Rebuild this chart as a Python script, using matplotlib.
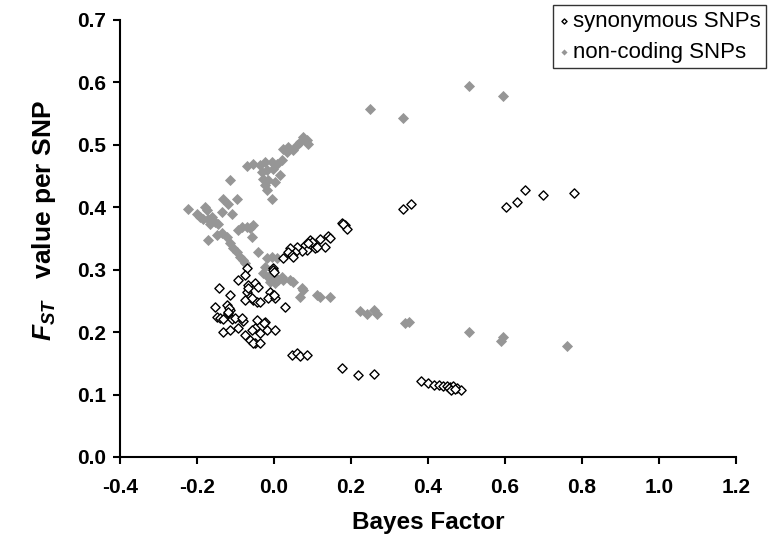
import numpy as np
import matplotlib
matplotlib.use("Agg")
import matplotlib.pyplot as plt
from matplotlib import font_manager

plt.rcParams['font.family'] = ['Liberation Sans', 'DejaVu Sans']
plt.rcParams['mathtext.fontset'] = 'custom'
plt.rcParams['mathtext.it'] = 'Liberation Sans:bold:italic'
plt.rcParams['mathtext.rm'] = 'Liberation Sans:bold'
plt.rcParams['mathtext.bf'] = 'Liberation Sans:bold'

names = set(f.name for f in font_manager.fontManager.ttflist)
narrow = 'Liberation Sans Narrow' if 'Liberation Sans Narrow' in names else 'Liberation Sans'

# synonymous SNPs: Bayes factor / Fst
syn_x = [0.334, 0.356, 0.604, 0.632, 0.653, 0.699, 0.779,
         0.176, 0.184, 0.189, 0.180,
         0.119, 0.132, 0.141, 0.145,
         0.094, 0.098, 0.106, 0.081, 0.085, 0.072, 0.059, 0.055, 0.042, 0.037,
         0.046, 0.050, 0.024, -0.002, 0.089, 0.111,
         -0.002, 0.000,
         -0.071, -0.075, -0.093, -0.067, -0.049, -0.071, -0.062, -0.054, -0.075, -0.045,
         -0.142, -0.114, -0.153, -0.123, -0.114, -0.119, -0.149, -0.140, -0.132, -0.110,
         -0.101, -0.080, -0.093, -0.132, -0.114, -0.075, -0.062, -0.049, -0.045, -0.049,
         -0.041, -0.067, -0.058, -0.036, -0.010, -0.002, -0.015, 0.003, 0.029, -0.084,
         -0.023, -0.058, -0.036, -0.019, 0.003, -0.054, -0.036,
         -0.117, -0.120, -0.027, 0.000,
         0.046, 0.059, 0.068, 0.085, 0.176, 0.219, 0.260,
         0.382, 0.401, 0.416, 0.429, 0.440, 0.449, 0.457, 0.466, 0.475, 0.485,
         0.455, 0.460, 0.470]
syn_y = [0.397, 0.406, 0.401, 0.409, 0.428, 0.420, 0.423,
         0.375, 0.372, 0.365, 0.374,
         0.349, 0.337, 0.354, 0.350,
         0.348, 0.345, 0.334, 0.340, 0.332, 0.330, 0.337, 0.329, 0.334, 0.329,
         0.324, 0.321, 0.318, 0.302, 0.342, 0.337,
         0.300, 0.296,
         0.302, 0.292, 0.283, 0.275, 0.278, 0.265, 0.257, 0.251, 0.251, 0.249,
         0.270, 0.260, 0.241, 0.243, 0.235, 0.230, 0.225, 0.222, 0.221, 0.221,
         0.222, 0.218, 0.206, 0.200, 0.203, 0.195, 0.187, 0.182, 0.219, 0.206,
         0.273, 0.270, 0.254, 0.249, 0.265, 0.259, 0.254, 0.254, 0.241, 0.222,
         0.217, 0.203, 0.198, 0.203, 0.203, 0.182, 0.182,
         0.238, 0.233, 0.214, 0.260,
         0.163, 0.166, 0.161, 0.163, 0.142, 0.131, 0.133,
         0.122, 0.119, 0.115, 0.115, 0.114, 0.113, 0.112, 0.113, 0.111, 0.107,
         0.110, 0.108, 0.109]

# non-coding SNPs: Bayes factor / Fst
nc_x = [0.506, 0.595, 0.249, 0.334,
        0.223, 0.241, 0.260, 0.268, 0.340, 0.350, 0.506, 0.589, 0.594, 0.760,
        0.076, 0.085, 0.089, 0.068, 0.059, 0.050, 0.037, 0.024, 0.033,
        -0.071, -0.054, -0.036, -0.023, -0.006, 0.007, 0.020, -0.032, -0.019, -0.002,
        0.016, -0.028, -0.015, 0.003, -0.023, -0.019, -0.006,
        -0.114,
        -0.224, -0.201, -0.192, -0.179, -0.175, -0.184, -0.171, -0.162, -0.153, -0.166,
        -0.145, -0.132, -0.119, -0.097, -0.110, -0.136,
        -0.084, -0.071, -0.062, -0.054, -0.093, -0.058,
        -0.171, -0.149, -0.136,
        -0.123, -0.114, -0.106, -0.097, -0.088, -0.080, -0.075,
        -0.041,
        -0.019, -0.006, 0.007, -0.023, -0.028, -0.015, -0.002, 0.011, 0.024, 0.042,
        0.050, -0.010, 0.003, 0.020,
        0.072, 0.076, 0.068, 0.111, 0.119, 0.145]
nc_y = [0.594, 0.579, 0.558, 0.543,
        0.234, 0.229, 0.235, 0.229, 0.214, 0.216, 0.200, 0.186, 0.192, 0.177,
        0.513, 0.508, 0.502, 0.505, 0.500, 0.492, 0.497, 0.494, 0.489,
        0.466, 0.470, 0.468, 0.473, 0.473, 0.470, 0.476, 0.457, 0.460, 0.462,
        0.452, 0.446, 0.444, 0.441, 0.436, 0.428, 0.414,
        0.443,
        0.398, 0.390, 0.385, 0.401, 0.396, 0.382, 0.382, 0.385, 0.377, 0.374,
        0.374, 0.414, 0.406, 0.414, 0.389, 0.393,
        0.369, 0.369, 0.366, 0.372, 0.364, 0.353,
        0.348, 0.356, 0.358,
        0.353, 0.342, 0.334, 0.329, 0.321, 0.316, 0.310,
        0.329,
        0.318, 0.321, 0.318, 0.305, 0.294, 0.289, 0.292, 0.283, 0.283, 0.283,
        0.281, 0.281, 0.278, 0.289,
        0.270, 0.268, 0.257, 0.260, 0.257, 0.256]

x_ticks = [-0.4, -0.2, 0.0, 0.2, 0.4, 0.6, 0.8, 1.0, 1.2]
y_ticks = [0.0, 0.1, 0.2, 0.3, 0.4, 0.5, 0.6, 0.7]

fig = plt.figure(figsize=(7.69, 5.49), dpi=100)
ax = fig.add_axes([0.156, 0.1676, 0.801, 0.796])

ax.scatter(syn_x, syn_y, marker='D', s=22, facecolors='white',
           edgecolors='black', linewidths=1.0, label='synonymous SNPs', zorder=3)
ax.scatter(nc_x, nc_y, marker='D', s=32, color='#969696',
           linewidths=0, label='non-coding SNPs', zorder=2)

ax.set_xlim(-0.4, 1.2)
ax.set_ylim(0.0, 0.7)
ax.set_xticks(x_ticks)
ax.set_yticks(y_ticks)
ax.set_xticklabels(['%.1f' % v for v in x_ticks], fontweight='bold', fontsize=15,
                   family=narrow)
ax.set_yticklabels(['%.1f' % v for v in y_ticks], fontweight='bold', fontsize=15,
                   family=narrow)

for side in ['top', 'right']:
    ax.spines[side].set_visible(False)
for side in ['left', 'bottom']:
    ax.spines[side].set_linewidth(1.5)
ax.tick_params(direction='out', length=5, width=1.5)
ax.tick_params(axis='x', pad=10)
ax.tick_params(axis='y', pad=5)

ax.set_xlabel('Bayes Factor', fontsize=17.5, fontweight='bold', labelpad=10)
ax.set_ylabel(r'$F_{ST}$   value per SNP', fontsize=19, fontweight='bold')
ax.yaxis.set_label_coords(-0.1, 0.54)

leg = ax.legend(loc='upper right', bbox_to_anchor=(766 / 769, 1 - 5 / 549),
                bbox_transform=fig.transFigure, borderaxespad=0, fancybox=False,
                frameon=True, fontsize=16, markerscale=0.55, handletextpad=0.15,
                handlelength=0.5, borderpad=0.25, labelspacing=0.45)
leg.get_frame().set_edgecolor('black')
leg.get_frame().set_linewidth(1.0)

fig.savefig('out.png', dpi=100)
